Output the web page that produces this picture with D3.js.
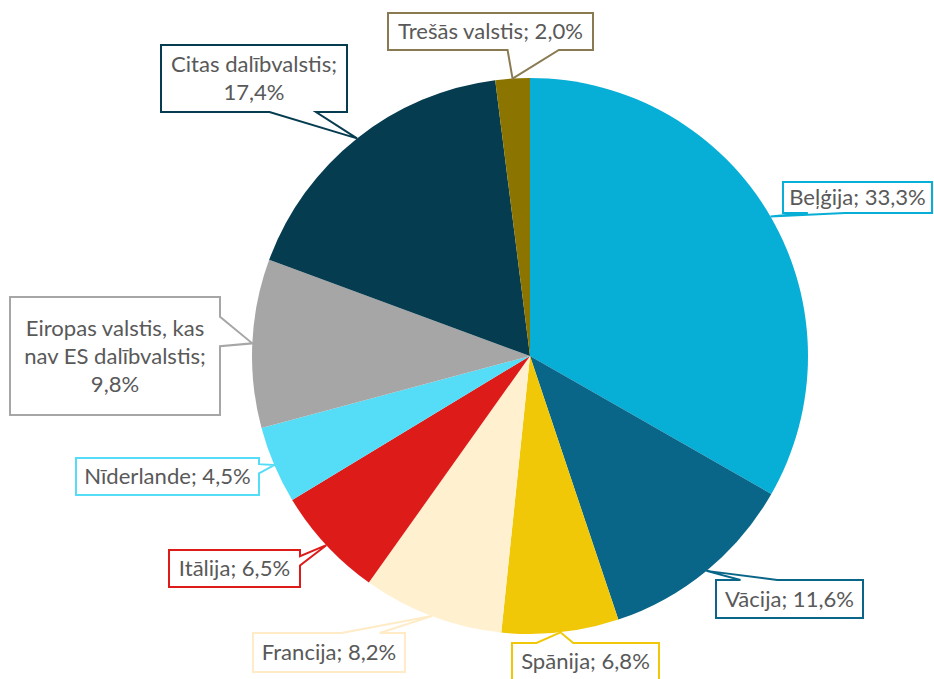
<!DOCTYPE html>
<html>
<head>
<meta charset="utf-8">
<script src="https://cdn.jsdelivr.net/npm/d3@7"></script>
<style>
  body { margin: 0; background: #fff; }
  svg { display: block; }
</style>
</head>
<body>
<div id="chart"></div>
<script>
// data
const categories = ['Beļģija', 'Vācija', 'Spānija', 'Francija', 'Itālija', 'Nīderlande',
    'Eiropas valstis, kas nav ES dalībvalstis', 'Citas dalībvalstis', 'Trešās valstis'];
const shares = [33.3, 11.6, 6.8, 8.2, 6.5, 4.5, 9.8, 17.4, 2.0];

// how each label wraps
const labelLines = [
    ['Beļģija; {v}'],
    ['Vācija; {v}'],
    ['Spānija; {v}'],
    ['Francija; {v}'],
    ['Itālija; {v}'],
    ['Nīderlande; {v}'],
    ['Eiropas valstis, kas', 'nav ES dalībvalstis;', '{v}'],
    ['Citas dalībvalstis;', '{v}'],
    ['Trešās valstis; {v}']
];

const colors = ['#07AED6', '#0A6689', '#F0C808', '#FFF1D0', '#DD1C1A', '#55DDF8', '#A6A6A6', '#063C50', '#8B7500'];
const borderColors = ['#07AED6', '#0A6689', '#F0C808', '#FFEBC6', '#DD1C1A', '#55DDF8', '#A6A6A6', '#063C50', '#8A7A52'];

// callout boxes (layout only)
const boxes = [
    { x: 783, y: 182, w: 149, h: 31 },
    { x: 716, y: 580, w: 147, h: 38 },
    { x: 512, y: 643, w: 147, h: 37 },
    { x: 253, y: 633, w: 152, h: 39 },
    { x: 169, y: 550, w: 131, h: 37 },
    { x: 76, y: 458, w: 183, h: 37 },
    { x: 10, y: 297, w: 210, h: 118 },
    { x: 161, y: 45, w: 186, h: 67 },
    { x: 388, y: 13, w: 205, h: 37 }
];

const width = 934, height = 679;
const cx = 530, cy = 356, radius = 278;

const svg = d3.select('#chart').append('svg')
    .attr('width', width)
    .attr('height', height);

const fontFamily = 'Lato, "Open Sans", sans-serif';

// size the font so a sample label matches the reference width
const probe = svg.append('text')
    .attr('font-family', fontFamily)
    .attr('font-size', 20)
    .text('Trešās valstis; 2,0%');
const probeW = probe.node().getComputedTextLength();
probe.remove();
const fontSize = 20 * 185 / probeW;

const pie = d3.pie().sort(null).value(d => d);
const arcs = pie(shares);
const arc = d3.arc().innerRadius(0).outerRadius(radius);

const g = svg.append('g').attr('transform', `translate(${cx},${cy})`);
g.selectAll('path')
    .data(arcs)
    .join('path')
    .attr('d', arc)
    .attr('fill', (d, i) => colors[i]);

const fmt = v => d3.format('.1f')(v).replace('.', ',') + '%';

// Excel-like wedge callout path
function calloutPath(b, tx, ty) {
    const hc = b.x + b.w / 2, vc = b.y + b.h / 2;
    const dxPos = tx - hc, dyPos = ty - vc;
    const dx = dxPos * b.h / b.w;
    let side;
    if (Math.abs(dx) > Math.abs(dyPos)) side = dxPos > 0 ? 'right' : 'left';
    else side = dyPos > 0 ? 'bottom' : 'top';
    const x1 = b.x + b.w * (dxPos > 0 ? 7 : 2) / 12;
    const x2 = b.x + b.w * (dxPos > 0 ? 10 : 5) / 12;
    const y1 = b.y + b.h * (dyPos > 0 ? 7 : 2) / 12;
    const y2 = b.y + b.h * (dyPos > 0 ? 10 : 5) / 12;
    const r = b.x + b.w, bt = b.y + b.h;
    const p = d3.path();
    p.moveTo(b.x, b.y);
    if (side === 'top') { p.lineTo(x1, b.y); p.lineTo(tx, ty); p.lineTo(x2, b.y); }
    p.lineTo(r, b.y);
    if (side === 'right') { p.lineTo(r, y1); p.lineTo(tx, ty); p.lineTo(r, y2); }
    p.lineTo(r, bt);
    if (side === 'bottom') { p.lineTo(x2, bt); p.lineTo(tx, ty); p.lineTo(x1, bt); }
    p.lineTo(b.x, bt);
    if (side === 'left') { p.lineTo(b.x, y2); p.lineTo(tx, ty); p.lineTo(b.x, y1); }
    p.closePath();
    return p.toString();
}

const labels = svg.append('g').attr('class', 'labels');
arcs.forEach((a, i) => {
    const mid = (a.startAngle + a.endAngle) / 2;
    const tx = cx + radius * Math.sin(mid);
    const ty = cy - radius * Math.cos(mid);
    const b = boxes[i];
    labels.append('path')
        .attr('d', calloutPath(b, tx, ty))
        .attr('fill', '#fff')
        .attr('stroke', borderColors[i])
        .attr('stroke-width', 2)
        .attr('stroke-linejoin', 'miter');

    const lines = labelLines[i].map(s => s.replace('{v}', fmt(shares[i])));
    const lineH = 28;
    const startY = b.y + b.h / 2 - (lines.length - 1) * lineH / 2;
    const t = labels.append('text')
        .attr('font-family', fontFamily)
        .attr('font-size', fontSize)
        .attr('fill', '#595959')
        .attr('text-anchor', 'middle');
    lines.forEach((ln, j) => {
        t.append('tspan')
            .attr('x', b.x + b.w / 2)
            .attr('y', startY + j * lineH)
            .attr('dy', '0.35em')
            .text(ln);
    });
});
</script>
</body>
</html>
